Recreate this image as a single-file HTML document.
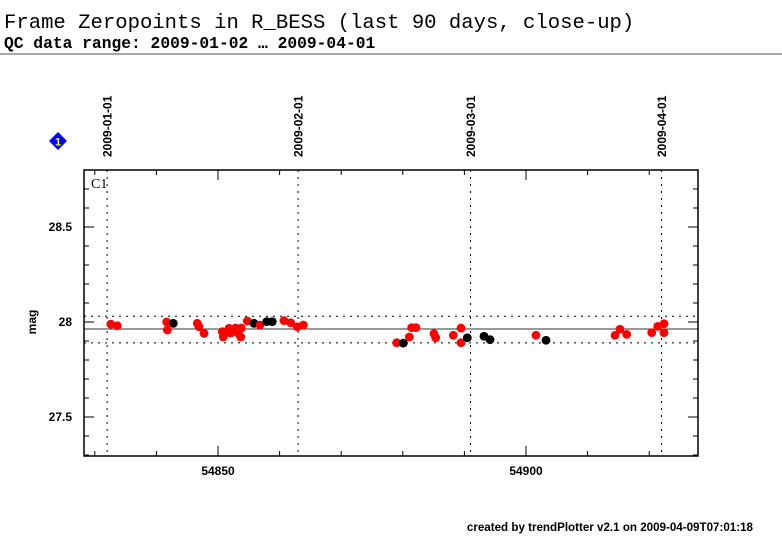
<!DOCTYPE html>
<html><head><meta charset="utf-8"><style>
html,body{margin:0;padding:0;background:#fff;width:782px;height:542px;overflow:hidden}
svg{display:block}
</style></head><body>
<svg id="c" width="782" height="542" xmlns="http://www.w3.org/2000/svg">
<text x="4" y="28" font-family="Liberation Mono, monospace" font-size="20.6">Frame Zeropoints in R_BESS (last 90 days, close-up)</text>
<text x="4" y="48" font-family="Liberation Mono, monospace" font-size="16.3" font-weight="bold">QC data range: 2009-01-02 … 2009-04-01</text>
<line x1="0" y1="54" x2="782" y2="54" stroke="#888" stroke-width="1.5"/>
<g><polygon points="58,132 67,141 58,150 49,141" fill="#0000ff"/><text x="58" y="145.5" text-anchor="middle" font-family="Liberation Sans, sans-serif" font-size="11" font-weight="bold" fill="#ffff00">1</text></g>
<g id="plot"></g>
<text x="753" y="531" text-anchor="end" font-family="Liberation Sans, sans-serif" font-size="11.6" font-weight="bold">created by trendPlotter v2.1 on 2009-04-09T07:01:18</text>
</svg>
<script>
const mjd=[54832.6,54833.65,54841.67,54841.77,54842.74,54846.64,54846.92,54847.73,54850.70,54850.86,54851.79,54852.06,54852.87,54853.25,54853.69,54853.78,54854.76,54855.84,54856.82,54857.91,54858.81,54860.71,54861.80,54862.87,54863.85,54879.01,54880.08,54881.06,54881.44,54882.14,54885.06,54885.34,54888.20,54889.45,54889.45,54890.47,54893.18,54894.16,54901.62,54903.25,54914.45,54915.26,54916.35,54920.41,54921.38,54922.40,54922.40];
const mag=[27.989,27.980,28.000,27.958,27.993,27.993,27.975,27.940,27.949,27.921,27.967,27.942,27.968,27.942,27.921,27.968,28.005,27.993,27.984,28.002,28.002,28.007,27.996,27.975,27.984,27.891,27.889,27.921,27.970,27.970,27.938,27.917,27.930,27.968,27.891,27.917,27.925,27.907,27.930,27.904,27.930,27.962,27.935,27.944,27.977,27.991,27.944];
const flag=[0,0,0,0,1,0,0,0,0,0,0,0,0,0,0,0,0,1,0,1,1,0,0,0,0,0,1,0,0,0,0,0,0,0,0,1,1,1,0,1,0,0,0,0,0,0,0];
const xTicks=[54850,54900];
const yTicks=[27.5,28,28.5];
const dateLabels=["2009-01-01","2009-02-01","2009-03-01","2009-04-01"];
const dateMjd=[54832,54863,54891,54922];
const meanMag=27.963, upperMag=28.03, lowerMag=27.89;

const L=84,R=698,T=170,B=456;
const X=v=>218+(v-54850)*6.16;
const Y=v=>322-(v-28)*190;
const NS="http://www.w3.org/2000/svg";
const g=document.getElementById('plot');
function mk(t,a){const e=document.createElementNS(NS,t);for(const k in a)e.setAttribute(k,a[k]);g.appendChild(e);return e;}

for(let i=0;i<dateLabels.length;i++){
  const x=X(dateMjd[i]);
  const l=mk('line',{x1:x,y1:T,x2:x,y2:B,stroke:'#000','stroke-width':1,'stroke-dasharray':'2,5'});
  
  
  const t=mk('text',{x:0,y:0,transform:`translate(${x+4.5},157) rotate(-90)`,'font-family':'Liberation Sans, sans-serif','font-size':12,'font-weight':'bold'});
  t.textContent=dateLabels[i];
  
  
}
[upperMag,lowerMag].forEach(v=>{
  const l=mk('line',{x1:L,y1:Y(v),x2:R,y2:Y(v),stroke:'#000','stroke-width':1,'stroke-dasharray':'2,5'});
  
  
});
const m=mk('line',{x1:L,y1:Y(meanMag),x2:R,y2:Y(meanMag),stroke:'#333','stroke-width':1});



for(let d=54830;d<=54925;d+=10){
  const x=X(d);const big=d%50===0;
  mk('line',{x1:x,y1:B,x2:x,y2:B-(big?10:5),stroke:'#000'});
  mk('line',{x1:x,y1:T,x2:x,y2:T+(big?10:5),stroke:'#000'});
}
for(let v=27.3;v<=28.8;v+=0.1){
  const y=Y(v);const big=Math.abs(v*2-Math.round(v*2))<1e-6;
  mk('line',{x1:L,y1:y,x2:L+(big?10:5),y2:y,stroke:'#000'});
  mk('line',{x1:R,y1:y,x2:R-(big?10:5),y2:y,stroke:'#000'});
}
xTicks.forEach(v=>{const t=mk('text',{x:X(v),y:475,'text-anchor':'middle','font-family':'Liberation Sans, sans-serif','font-size':12,'font-weight':'bold'});t.textContent=v;
  
  });
yTicks.forEach(v=>{const t=mk('text',{x:72,y:Y(v)+4,'text-anchor':'end','font-family':'Liberation Sans, sans-serif','font-size':12,'font-weight':'bold'});t.textContent=v;
  
  });
const yt=mk('text',{x:0,y:0,transform:'translate(36,322) rotate(-90)','text-anchor':'middle','font-family':'Liberation Sans, sans-serif','font-size':12,'font-weight':'bold'});
yt.textContent='mag';


const c1=mk('text',{x:91,y:188,'font-family':'Liberation Serif, serif','font-size':14});
c1.textContent='C1';



for(let i=0;i<mjd.length;i++){
  const p=mk('circle',{cx:X(mjd[i]),cy:Y(mag[i]),r:4.4,fill:flag[i]?'#000':'#ff0000'});
  
  
}
const f=mk('rect',{x:L,y:T,width:R-L,height:B-T,fill:'none',stroke:'#000','stroke-width':1.5});


</script>
</body></html>
